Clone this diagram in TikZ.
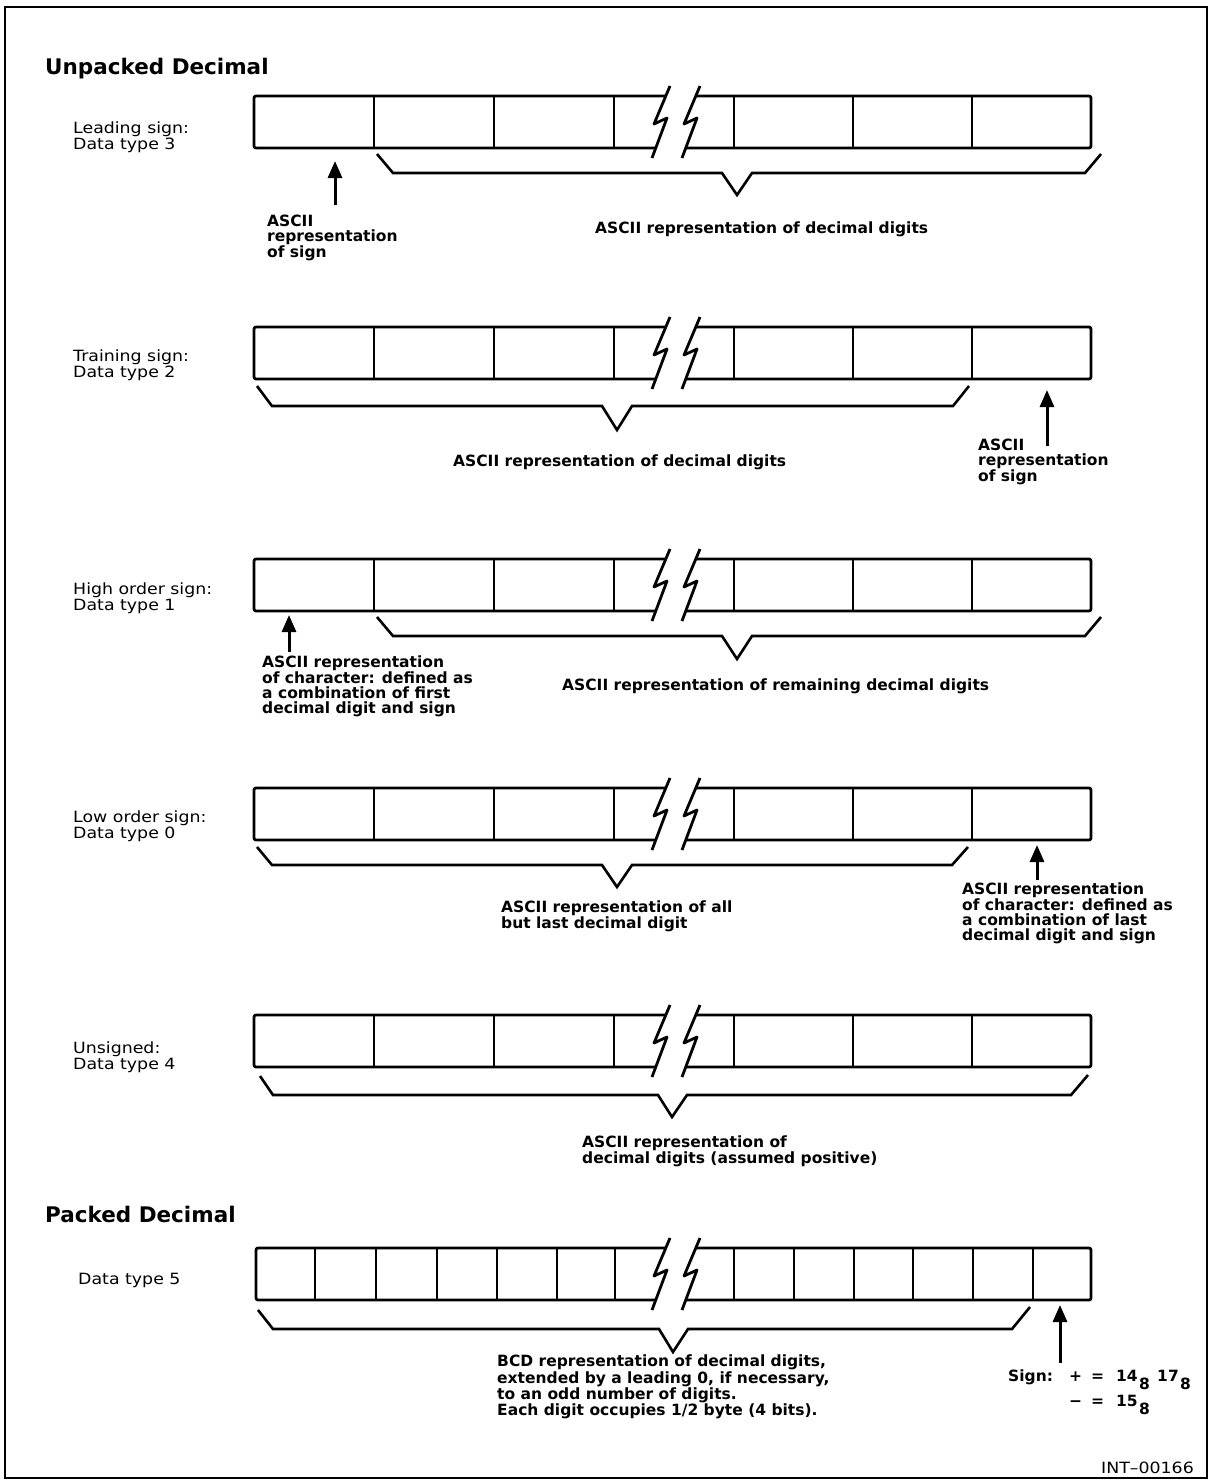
\documentclass[tikz,border=0pt]{standalone}
\usepackage{fontspec}
\setmainfont{DejaVu Sans}
\newfontfamily\lblfont[FakeStretch=1.12]{DejaVu Sans}
\usetikzlibrary{arrows.meta}

\newcommand\breakmark{%
  \draw[boxline] (670,-10) -- (654,28) -- (667,22) -- (652,62);
  \draw[boxline] (700,-10) -- (684,28) -- (697,22) -- (682,62);
}
\newcommand\unpackedrow[1]{%
  \begin{scope}[shift={(0,#1)}]
    \draw[boxline, rounded corners=2pt] (665.8,0) -- (254,0) -- (254,52) -- (655.7,52);
    \draw[boxline, rounded corners=2pt] (695.8,0) -- (1091,0) -- (1091,52) -- (685.7,52);
    \foreach \x in {374,494,614,734,853,972} \draw[boxline] (\x,0) -- (\x,52);
    \breakmark
  \end{scope}}

\begin{document}
\begin{tikzpicture}[x=1pt,y=-1pt,
  boxline/.style={line width=2.8pt, line join=round},
  braceline/.style={line width=2.6pt, line join=miter},
  ptr/.style={line width=3pt, -{Triangle[length=17pt,width=14pt]}},
  ann/.style={anchor=north west, inner sep=0pt, align=left, font=\fontsize{15.5}{15}\selectfont\bfseries},
  lbl/.style={anchor=north west, inner sep=0pt, align=left, font=\fontsize{15.5}{13.5}\selectfont\lblfont},
  head/.style={anchor=north west, inner sep=0pt, font=\fontsize{21.5}{24}\selectfont\bfseries},
  sgn/.style={anchor=base west, inner sep=0pt, font=\fontsize{15.5}{15}\selectfont\bfseries}]

\useasboundingbox (0,0) rectangle (1211,1481);
\draw[line width=2pt] (5,7) rectangle (1207,1478);

% headings
\node[head] (hunp) at (45,58) {Unpacked Decimal};
\node[head] (hpck) at (45,1206) {Packed Decimal};

% ---------- Row 1: leading sign
\node[lbl] (l1) at (73,122) {Leading sign:\\Data type 3};
\unpackedrow{96}
\draw[braceline] (377,154) -- (393,173) -- (722,173) -- (737,195) -- (752,173) -- (1085,173) -- (1101,154);
\node[ann] (t1a) at (267,215) {ASCII\\representation\\of sign};
\node[ann] (t1b) at (595,222) {ASCII representation of decimal digits};
\coordinate (a1s) at (335,205);
\coordinate (a1e) at (335,161);
\draw[ptr] (a1s) -- (a1e);

% ---------- Row 2: trailing sign
\node[lbl] (l2) at (73,350) {Training sign:\\Data type 2};
\unpackedrow{327}
\draw[braceline] (257,386) -- (272,406) -- (602,406) -- (617,430) -- (632,406) -- (953,406) -- (969,386);
\node[ann] (t2a) at (453,455) {ASCII representation of decimal digits};
\node[ann] (t2b) at (978,439) {ASCII\\representation\\of sign};
\coordinate (a2s) at (1047,446);
\coordinate (a2e) at (1047,390);
\draw[ptr] (a2s) -- (a2e);

% ---------- Row 3: high order sign
\node[lbl] (l3) at (73,583) {High order sign:\\Data type 1};
\unpackedrow{559}
\draw[braceline] (377,617) -- (393,636) -- (722,636) -- (737,659) -- (752,636) -- (1085,636) -- (1101,617);
\node[ann] (t3a) at (262,656) {ASCII representation\\of character: defined as\\a combination of first\\decimal digit and sign};
\node[ann] (t3b) at (562,679) {ASCII representation of remaining decimal digits};
\coordinate (a3s) at (289,652);
\coordinate (a3e) at (289,615);
\draw[ptr] (a3s) -- (a3e);

% ---------- Row 4: low order sign
\node[lbl] (l4) at (73,811) {Low order sign:\\Data type 0};
\unpackedrow{788}
\draw[braceline] (257,847) -- (272,865) -- (602,865) -- (617,887) -- (632,865) -- (952,865) -- (968,847);
\node[ann] (t4a) at (501,901) {ASCII representation of all\\but last decimal digit};
\node[ann] (t4b) at (962,883) {ASCII representation\\of character: defined as\\a combination of last\\decimal digit and sign};
\coordinate (a4s) at (1037,880);
\coordinate (a4e) at (1037,845);
\draw[ptr] (a4s) -- (a4e);

% ---------- Row 5: unsigned
\node[lbl] (l5) at (73,1042) {Unsigned:\\Data type 4};
\unpackedrow{1015}
\draw[braceline] (260,1076) -- (273,1095) -- (658,1095) -- (672,1117) -- (687,1095) -- (1071,1095) -- (1088,1075);
\node[ann] (t5a) at (582,1136) {ASCII representation of\\decimal digits (assumed positive)};

% ---------- Row 6: packed decimal
\node[lbl] (l6) at (78,1273) {Data type 5};
\begin{scope}[shift={(0,1248)}]
  \draw[boxline, rounded corners=2pt] (665.8,0) -- (256,0) -- (256,52) -- (655.7,52);
  \draw[boxline, rounded corners=2pt] (695.8,0) -- (1091,0) -- (1091,52) -- (685.7,52);
  \foreach \x in {315,376,437,497,557,615,734,794,854,913,973,1033} \draw[boxline] (\x,0) -- (\x,52);
  \breakmark
\end{scope}
\draw[braceline] (258,1310) -- (273,1329) -- (659,1329) -- (673,1352) -- (688,1329) -- (1012,1329) -- (1030,1307);
\node[ann] (t6a) at (497,1355) {BCD representation of decimal digits,\\extended by a leading 0, if necessary,\\to an odd number of digits.\\Each digit occupies 1/2 byte (4 bits).};
\coordinate (a6s) at (1060,1363);
\coordinate (a6e) at (1060,1305);
\draw[ptr] (a6s) -- (a6e);

% sign values
\node[sgn] (s0) at (1008,1381) {Sign:};
\node[sgn] (s1) at (1069,1381) {+};
\node[sgn] (s2) at (1091,1381) {=};
\node[sgn] (s3) at (1116,1381) {14};
\node[sgn] (s4) at (1139,1389) {8};
\node[sgn] (s5) at (1157,1381) {17};
\node[sgn] (s6) at (1180,1389) {8};
\node[sgn] (s7) at (1069,1406) {\textminus};
\node[sgn] (s8) at (1091,1406) {=};
\node[sgn] (s9) at (1116,1406) {15};
\node[sgn] (s10) at (1139,1414) {8};

\node[anchor=base east, inner sep=0pt, font=\fontsize{15.5}{15}\selectfont\lblfont] (int) at (1194,1473) {INT–00166};
\end{tikzpicture}
\end{document}
